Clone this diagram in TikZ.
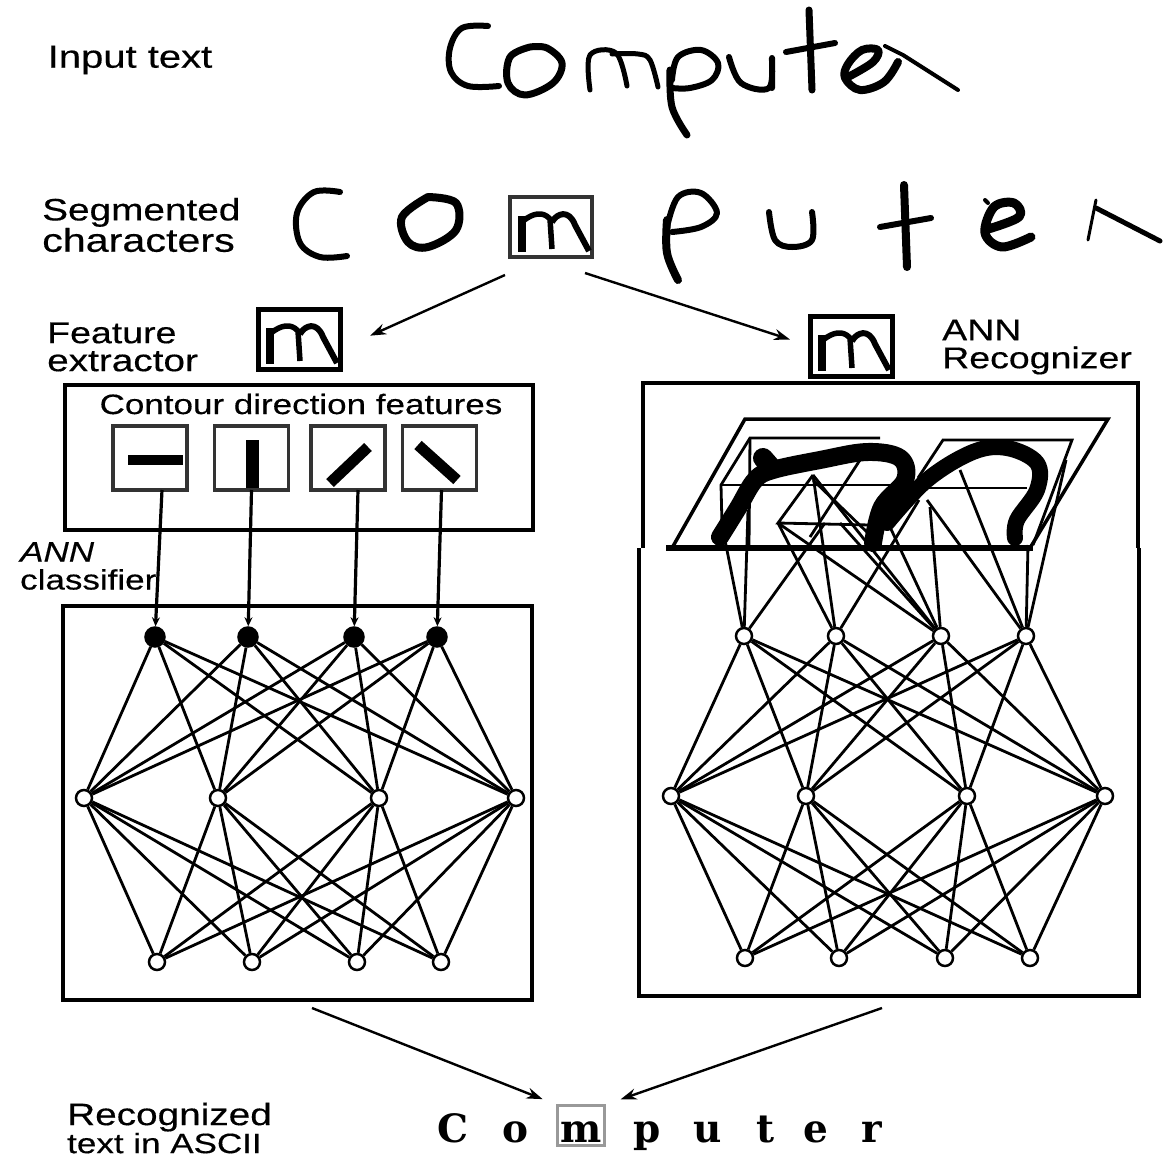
\documentclass[tikz,border=0pt]{standalone}
\usepackage{fontspec}
\setmainfont{Liberation Sans}
\newfontfamily\labf{Liberation Sans}[FakeStretch=1.25,FakeBold=0.4]
\newfontfamily\slabf{DejaVu Serif}
\usetikzlibrary{arrows.meta,positioning,calc}
\newcommand{\ink}[2][5]{\draw[line width=#1pt,line cap=round,line join=round] plot[smooth,tension=0.6] coordinates {#2};}

\begin{document}
\begin{tikzpicture}[x=1pt,y=-1pt,
lab/.style={font=\labf\fontsize{30}{28}\selectfont,align=left,inner sep=0pt},
frm/.style={draw,line width=3.5pt,inner sep=0pt,outer sep=0pt},
feat/.style={draw=black!80,line width=3.5pt,minimum width=74pt,minimum height=64pt,inner sep=0pt,outer sep=0pt},
mbox/.style={draw=black!80,line width=4pt,minimum width=82pt,minimum height=60pt,inner sep=0pt,outer sep=0pt},
unit/.style={circle,draw,fill=white,line width=2.5pt,minimum size=16pt,inner sep=0pt},
solid unit/.style={unit,fill=black,minimum size=19pt},
lnk/.style={line width=2.8pt},
arr/.style={-{Stealth[length=16pt,width=11pt]},line width=2.4pt},
feed/.style={-{Stealth[length=9pt,width=8pt]},line width=3.2pt},
mglyph/.pic={
\draw[line width=8pt] (-29,-11)--(-29,25);
\draw[line width=5.5pt,line join=round] (-28,-6)..controls (-18,-14) and (-8,-16)..(-1,-8)--(1,22);
\draw[line width=6pt,line join=round] (1,-5)..controls (6,-14) and (18,-18)..(24,-2)--(38,24);
}]
\useasboundingbox (0,0) rectangle (1165,1157);

% labels
\node[lab,font=\labf\fontsize{32}{28}\selectfont] (input) at (130,60) {Input text};
\node[lab,anchor=west,font=\labf\fontsize{31}{28}\selectfont] (segm) at (42,225) {Segmented\\{\fontsize{33}{28}\selectfont characters}};
\node[lab,anchor=west] (extr) at (47,347) {Feature\\{\fontsize{31}{28}\selectfont extractor}};
\node[lab,anchor=west] (recog) at (942,347) {ANN\\Recognizer};
\node[lab,anchor=west,font=\labf\fontsize{28}{28}\selectfont] (annc) at (20,566) {\textit{ANN}\\classifier};
\node[lab,anchor=west] (ascii) at (67,1128) {{\fontsize{31}{28}\selectfont Recognized}\\{\fontsize{28}{28}\selectfont text in ASCII}};

% handwritten word
\ink[6]{(488,26) (462,28) (450,48) (451,72) (468,86) (499,86)}
\ink[7]{(530,47) (510,57) (508,83) (525,95) (553,83) (562,63) (547,48) (530,47)}
\ink{(590,90) (590,55) (616,53) (627,86)}
\ink{(612,54) (638,54) (650,60) (658,87)}
\ink[6]{(672,80) (678,57) (701,50) (718,63) (712,80) (690,88) (672,88)}
\ink[7]{(670,70) (672,107) (687,135)}
\ink[6]{(729,57) (741,83) (769,88) (772,58) (772,88)}
\ink[7]{(809,10) (812,90)}
\ink[6]{(786,52) (835,43)}
\ink[8]{(850,76) (873,62) (878,50) (862,50) (848,64) (845,78) (860,90) (884,82) (898,62)}
\draw[line width=4pt,line cap=round] (885,46)--(903,55)--(958,90);

% segmented letters
\ink[6]{(340,192) (314,192) (297,213) (300,243) (320,257) (347,256)}
\ink[8]{(428,197) (402,217) (408,242) (428,247) (456,230) (456,203) (428,197)}
\ink[6]{(667,227) (678,197) (701,193) (717,213) (701,227) (672,232)}
\ink[8]{(667,220) (667,253) (678,280)}
\ink[6]{(769,212) (775,240) (792,247) (812,240) (812,212)}
\ink[8]{(904,185) (907,267)}
\ink[6]{(880,227) (931,218)}
\ink[9]{(985,230) (1019,217) (1014,203) (994,207) (985,233) (1002,247) (1031,237)}
\ink[4]{(985,200) (988,203)}
\draw[line width=3pt,line cap=round] (1088,240)--(1096,200);
\draw[line width=5pt,line cap=round] (1096,208)--(1160,241);

% the picked letter
\node[mbox] (mseg) at (551,227) {};
\node[mbox,draw=black,line width=5pt] (mleft) at (299,339) {};
\node[mbox,draw=black,line width=5pt] (mright) at (851,346) {};
\pic at (551,227) {mglyph};
\pic at (299,339) {mglyph};
\pic at (851,346) {mglyph};
\coordinate (splitL) at (505,275);
\coordinate (splitR) at (585,273);
\draw[arr,shorten >=33pt] (splitL)--(mleft.-14);
\draw[arr,shorten >=21pt] (splitR)--(mright.west);

% left column
\node[frm,minimum width=468pt,minimum height=145pt] (contour) at (299,457.5) {};
\node[lab,font=\labf\fontsize{28}{28}\selectfont] (cdf) at (301,404) {Contour direction features};
\node[feat] (f1) at (150,458) {};
\node[feat] (f2) at (251.5,458) {};
\node[feat] (f3) at (348,458) {};
\node[feat] (f4) at (439.5,458) {};
\draw[line width=10pt] (128,460)--(183,460);
\draw[line width=13pt] (252,440)--(252,488);
\draw[line width=11pt] (330,483)--(368,447);
\draw[line width=11pt] (418,445)--(457,480);
\node[frm,minimum width=469pt,minimum height=394pt] (leftnet) at (297.5,803) {};

\foreach \xx [count=\i] in {155,248,354,437} \node[solid unit] (lt\i) at (\xx,637) {};
\foreach \xx [count=\i] in {84,218,379,516} \node[unit] (lh\i) at (\xx,798) {};
\foreach \xx [count=\i] in {157,252,357,441} \node[unit] (lb\i) at (\xx,962) {};
\foreach \i in {1,...,4} \foreach \j in {1,...,4} {
\draw[lnk] (lt\i)--(lh\j);
\draw[lnk] (lh\i)--(lb\j);
}
\draw[feed] (f1.south)++(12,0)--(lt1);
\draw[feed] (f2.south)--(lt2);
\draw[feed] (f3.south)++(10,0)--(lt3);
\draw[feed] (f4.south)++(2,0)--(lt4);

% right column
\coordinate (ra) at (643,548);
\coordinate (rb) at (1138,548);
\draw[line width=3.5pt] (ra)--(643,383)--(1138,383)--(rb);
\node[frm,draw=none,minimum width=500pt,minimum height=448pt] (rightnet) at (889,772) {};
\draw[line width=3.5pt] (rightnet.north west)--(rightnet.south west)--(rightnet.south east)--(rightnet.north east);

\foreach \xx [count=\i] in {744,836,941,1026} \node[unit] (rt\i) at (\xx,636) {};
\foreach \xx [count=\i] in {671,806,967,1105} \node[unit] (rh\i) at (\xx,796) {};
\foreach \xx [count=\i] in {745,839,945,1030} \node[unit] (rb\i) at (\xx,958) {};
\foreach \i in {1,...,4} \foreach \j in {1,...,4} {
\draw[lnk] (rt\i)--(rh\j);
\draw[lnk] (rh\i)--(rb\j);
}

% retina
\coordinate (pa) at (672,548);
\coordinate (pb) at (745,419);
\coordinate (pc) at (1108,419);
\coordinate (pd) at (1030,548);
\draw[line width=3.5pt] (pa)--(pb)--(pc)--(pd);
\draw[lnk] (722,525)--(721,485)--(750,438)--(880,438);
\draw[lnk] (721,485)--(893,485);
\draw[lnk] (750,438)--(749,545);
\draw[lnk] (918,478)--(943,440)--(1072,440)--(1033,545);
\draw[lnk] (925,488)--(1027,488);
\draw[lnk] (860,460)--(810,537);
\draw[lnk] (813,475)--(778,523)--(870,525);
\draw[lnk] (813,480)--(870,535);
\foreach \px/\py/\n in {722/525/1,748/510/1,825/523/1,778/523/2,813/475/2,919/500/2,813/475/3,778/523/3,840/523/3,890/527/3,930/507/3,927/500/4,960/470/4,1028/545/4,1066/460/4} {
\coordinate (rp) at (\px,\py);
\draw[lnk] (rp)--(rt\n);
}
\draw[line width=6pt] (666,548)--(1033,548);
\ink[18]{(720,537) (738,508) (755,480) (773,470) (820,460) (867,452) (900,458) (905,480) (882,507) (873,543)}
\ink[20]{(763,458) (770,466)}
\ink[16]{(887,523) (927,480) (973,452) (1007,448) (1037,463) (1037,490) (1017,520) (1015,538)}

% output
\node[draw=black!40,line width=3pt,minimum width=47pt,minimum height=40pt,inner sep=0pt,outer sep=0pt] (mout) at (581,1125) {};
\foreach \ch/\xx in {C/453,o/516,m/581,p/647,u/708,t/765,e/816,r/872}
\node[font=\slabf\bfseries\fontsize{39}{39}\selectfont,anchor=base,inner sep=0pt] (out\ch) at (\xx,1142) {\ch};
\coordinate (joinL) at (312,1008);
\coordinate (joinR) at (882,1008);
\draw[arr,shorten >=16pt] (joinL)--(mout.north west);
\draw[arr,shorten >=17pt] (joinR)--(mout.north east);
\end{tikzpicture}
\end{document}
